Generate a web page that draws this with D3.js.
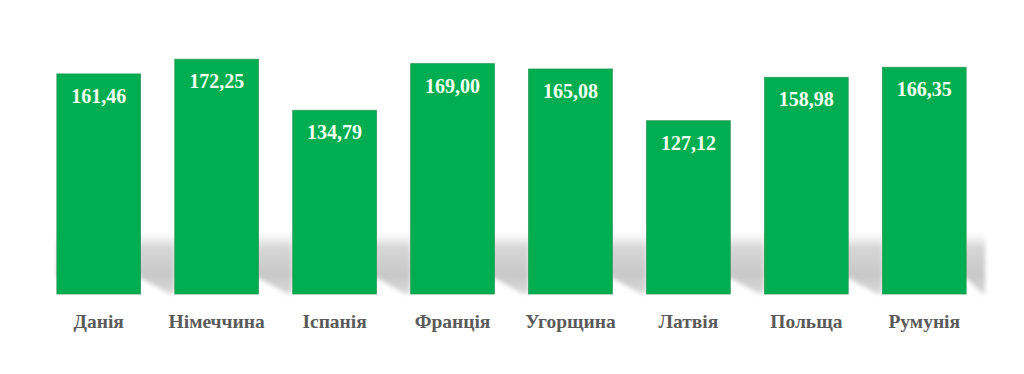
<!DOCTYPE html>
<html lang="uk">
<head>
<meta charset="UTF-8">
<script src="https://d3js.org/d3.v7.min.js"></script>
<title>Діаграма</title>
<style>
  body { margin: 0; background: #fff; }
  svg text { font-family: "Liberation Serif", "Times New Roman", Tinos, "DejaVu Serif", serif; font-weight: bold; }
</style>
</head>
<body>
<div id="grafico"></div>
<script>
  var krainy = ['Данія', 'Німеччина', 'Іспанія', 'Франція', 'Угорщина', 'Латвія', 'Польща', 'Румунія']
  var znachennia = [161.46, 172.25, 134.79, 169.00, 165.08, 127.12, 158.98, 166.35]
  var pidpysy = ['161,46', '172,25', '134,79', '169,00', '165,08', '127,12', '158,98', '166,35']

  var dani = krainy.map((k, i) => ({ k: k, v: znachennia[i], t: pidpysy[i], i: i }))

  var svg = d3.select('#grafico').append('svg')
    .attr('width', 1024)
    .attr('height', 374)

  var defs = svg.append('defs')
  var grad = defs.append('linearGradient')
    .attr('id', 'tin')
    .attr('x1', 0).attr('y1', 0).attr('x2', 0).attr('y2', 1)
  grad.append('stop').attr('offset', '0%').attr('stop-color', '#e6e6e6').attr('stop-opacity', 0)
  grad.append('stop').attr('offset', '25%').attr('stop-color', '#d6d6d6').attr('stop-opacity', 1)
  grad.append('stop').attr('offset', '70%').attr('stop-color', '#c8c8c8').attr('stop-opacity', 1)
  grad.append('stop').attr('offset', '100%').attr('stop-color', '#dadada').attr('stop-opacity', 1)
  defs.append('filter').attr('id', 'rozmyttia')
    .append('feGaussianBlur').attr('stdDeviation', 2.2)

  var xScale = d3.scaleBand()
    .domain(krainy)
    .range([38, 985])
    .paddingInner(0.29)
    .paddingOuter(0.16)

  var yScale = d3.scaleLinear()
    .domain([0, 200])
    .range([294, 21.4])

  // тінь за стовпчиками
  var prom = xScale.step() - xScale.bandwidth()
  svg.append('g').selectAll('polygon')
    .data(dani)
    .enter()
    .append('polygon')
    .attr('points', d => {
      var x0 = xScale(d.k), x1 = x0 + xScale.bandwidth(), y0 = yScale(0)
      var ext = d.i < krainy.length - 1 ? prom : 19
      return [[x0, y0 - 62], [x1 + ext, y0 - 62], [x1 + ext, y0 - 2],
              [x1 + ext * 0.85, y0], [x1, y0 - 16], [x0, y0 - 16]].join(' ')
    })
    .attr('fill', 'url(#tin)')
    .attr('filter', 'url(#rozmyttia)')

  svg.append('g').selectAll('rect')
    .data(dani)
    .enter()
    .append('rect')
    .attr('x', d => xScale(d.k))
    .attr('y', d => yScale(d.v))
    .attr('width', xScale.bandwidth())
    .attr('height', d => yScale(0) - yScale(d.v))
    .attr('fill', '#00ad50')
    .attr('stroke', '#2c9a55')
    .attr('stroke-width', 0.8)

  svg.append('g').selectAll('text')
    .data(dani)
    .enter()
    .append('text')
    .attr('x', d => xScale(d.k) + xScale.bandwidth() / 2)
    .attr('y', d => yScale(d.v) + 29)
    .attr('text-anchor', 'middle')
    .attr('fill', '#f4fff4')
    .style('font-size', '20px')
    .text(d => d.t)

  var xAxis = d3.axisBottom(xScale).tickSize(0).tickPadding(0)
  var gx = svg.append('g')
    .attr('transform', 'translate(0, 294)')
    .call(xAxis)
  gx.select('.domain').remove()
  gx.selectAll('text')
    .attr('y', 34)
    .attr('dy', 0)
    .attr('fill', '#5a5a5a')
    .style('font-size', '19.5px')
</script>
</body>
</html>
